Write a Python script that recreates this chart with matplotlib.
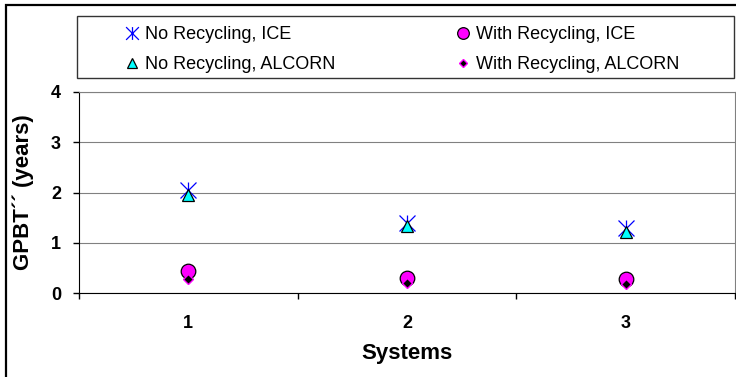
import matplotlib
matplotlib.use('Agg')
import matplotlib.pyplot as plt
from matplotlib.path import Path
from matplotlib.patches import Rectangle

plt.rcParams['font.family'] = ['Liberation Sans', 'DejaVu Sans']

systems = [1, 2, 3]
no_rec_ice = [2.05, 1.40, 1.30]
with_rec_ice = [0.44, 0.30, 0.27]
no_rec_alcorn = [1.95, 1.33, 1.22]
with_rec_alcorn = [0.27, 0.19, 0.17]
yticks = [0, 1, 2, 3, 4]

# excel style star: an X with a vertical bar through it
star = Path([(-1, -1), (1, 1), (-1, 1), (1, -1), (0, -1), (0, 1)],
            [Path.MOVETO, Path.LINETO, Path.MOVETO, Path.LINETO, Path.MOVETO, Path.LINETO])

W, H = 736, 377
fig = plt.figure(figsize=(W / 100, H / 100), dpi=100)

# outer frame of the chart
fig.add_artist(Rectangle((6 / W, -0.1), 1.2, 1 - 5 / H + 0.1, transform=fig.transFigure,
                         fill=False, edgecolor='black', linewidth=1.6))

ax = fig.add_axes([79 / W, 1 - 293 / H, (735 - 79) / W, (293 - 92) / H])

s1, = ax.plot(systems, no_rec_ice, linestyle='none', marker=star, markersize=11.5,
              markeredgecolor='#0000FF', markeredgewidth=0.9, label='No Recycling, ICE')
s2, = ax.plot(systems, with_rec_ice, linestyle='none', marker='o', markersize=10.5,
              markerfacecolor='#FF00FF', markeredgecolor='black', markeredgewidth=0.9,
              label='With Recycling, ICE')
s3, = ax.plot(systems, no_rec_alcorn, linestyle='none', marker='^', markersize=9,
              markerfacecolor='#00FFFF', markeredgecolor='black', markeredgewidth=0.9,
              label='No Recycling, ALCORN')
s4, = ax.plot(systems, with_rec_alcorn, linestyle='none', marker='D', markersize=5.5,
              markerfacecolor='black', markeredgecolor='#FF00FF', markeredgewidth=1.0,
              label='With Recycling, ALCORN')

ax.set_xlim(0.5, 3.5)
ax.set_ylim(0, 4)
ax.set_yticks(yticks)
ax.set_xticks(systems)
ax.set_xticks([0.5, 1.5, 2.5, 3.5], minor=True)
ax.tick_params(axis='x', which='major', length=0, pad=16, labelsize=13)
ax.tick_params(axis='x', which='minor', length=4, width=1, direction='out')
ax.tick_params(axis='y', length=4, width=1, direction='out', pad=9, labelsize=13)
for lab in ax.get_xticklabels() + ax.get_yticklabels():
    lab.set_fontweight('bold')

ax.grid(axis='y', color='#808080', linewidth=0.8)
ax.set_axisbelow(True)
ax.spines['left'].set_color('black')
ax.spines['bottom'].set_color('black')
ax.spines['top'].set_color('#808080')
ax.spines['right'].set_color('#808080')

ax.set_xlabel('Systems', fontsize=16, fontweight='bold', labelpad=8)
ax.set_ylabel('GPBT\u00b4\u00b4 (years)', fontsize=16, fontweight='bold', labelpad=12)

# legend box with two columns
fig.add_artist(Rectangle((77 / W, 1 - 78 / H), (734 - 77) / W, 62 / H,
                         transform=fig.transFigure, fill=False,
                         edgecolor='#333333', linewidth=1.0))
leg_kw = dict(frameon=False, loc='upper left', borderpad=0, borderaxespad=0,
              handlelength=0.8, handletextpad=0.32, labelspacing=0.72,
              markerscale=0.8, prop={'size': 13})
leg1 = fig.legend(handles=[s1, s3], bbox_to_anchor=(125 / W, 1 - 26 / H), **leg_kw)
leg2 = fig.legend(handles=[s2, s4], bbox_to_anchor=(456 / W, 1 - 26 / H), **leg_kw)

fig.savefig('out.png', dpi=100)
